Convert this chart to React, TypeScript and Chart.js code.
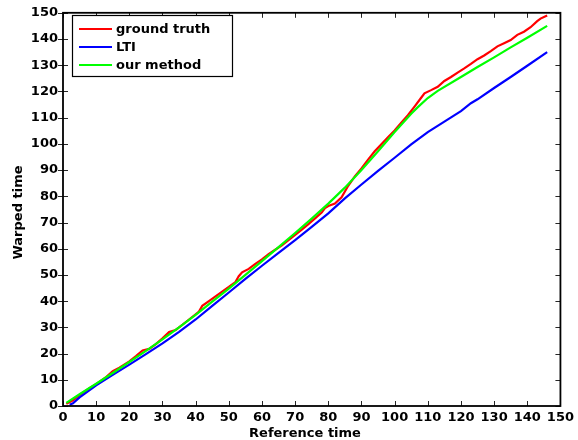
import { useEffect, useRef } from "react";
import { Chart, registerables } from "chart.js";

Chart.register(...registerables);

// ---------- data ----------
const xTickValues = [0, 10, 20, 30, 40, 50, 60, 70, 80, 90, 100, 110, 120, 130, 140, 150];
const yTickValues = [0, 10, 20, 30, 40, 50, 60, 70, 80, 90, 100, 110, 120, 130, 140, 150];

const seriesLabels = ["ground truth", "LTI", "our method"];
const seriesColors = ["#ff0000", "#0000ff", "#00ff00"];

const xAxisTitle = "Reference time";
const yAxisTitle = "Warped time";

const groundTruthX = [1, 3, 5, 8, 10, 13, 15, 17, 20, 22, 24, 26, 28, 30, 32, 34, 36, 38, 40, 41, 42, 44, 46, 48, 50, 52, 53, 54, 56, 58, 60, 62, 64, 66, 68, 70, 72, 74, 76, 78, 79, 80, 82, 84, 86, 88, 90, 92, 94, 96, 98, 100, 102, 104, 106, 108, 109, 111, 113, 115, 117, 119, 121, 123, 125, 127, 129, 131, 133, 135, 137, 139, 141, 143, 144, 146];
const groundTruthY = [0.8, 2.2, 4.2, 6.8, 8.3, 11, 13.3, 14.6, 17, 19, 21.2, 21.8, 23.6, 25.8, 28.2, 29, 31, 33, 35, 36, 38.2, 40, 41.8, 43.6, 45.4, 47.3, 49.5, 51, 52.3, 54.2, 55.9, 57.9, 59.6, 61.3, 63.3, 65.3, 67.3, 69.4, 71.6, 73.8, 75.5, 76.3, 77.2, 79.6, 84, 87.6, 90.6, 94, 97.2, 99.8, 102.5, 105.1, 108.1, 110.9, 114.2, 117.6, 119.3, 120.5, 121.8, 124, 125.5, 127.2, 128.8, 130.5, 132.3, 133.7, 135.4, 137.2, 138.4, 139.6, 141.6, 142.8, 144.5, 146.8, 147.8, 149];

const ltiX = [2, 3, 5, 10, 15, 20, 25, 30, 35, 40, 45, 50, 55, 60, 65, 70, 75, 80, 85, 90, 95, 100, 105, 110, 115, 120, 123, 125, 130, 135, 140, 146];
const ltiY = [0.5, 1, 3.3, 7.9, 11.9, 15.8, 19.8, 23.9, 28.3, 33, 38.2, 43.3, 48.5, 53.5, 58.4, 63.3, 68.3, 73.5, 79.2, 84.5, 89.7, 94.7, 99.8, 104.5, 108.5, 112.5, 115.5, 117, 121.3, 125.5, 129.8, 135];

const ourMethodX = [1, 5, 10, 15, 20, 25, 30, 35, 40, 45, 50, 55, 60, 65, 70, 75, 80, 85, 90, 95, 100, 105, 107, 110, 113, 120, 125, 130, 135, 140, 146];
const ourMethodY = [1.2, 4.5, 8.5, 12.6, 16.8, 21, 25.4, 30, 34.8, 39.8, 44.8, 50, 55.3, 60.6, 66, 71.5, 77.2, 83.3, 90, 97.2, 104.5, 111.5, 114, 117.5, 120.2, 125.5, 129.3, 133, 136.8, 140.5, 145];

// ---------- styling ----------
const FONT_FAMILY = "'DejaVu Sans', sans-serif";
const FONT_SIZE = 13;

const toPoints = (xs: number[], ys: number[]) => xs.map((x, i) => ({ x, y: ys[i] }));

const framePlugin = {
  id: "matlabFrame",
  afterDraw(chart: any) {
    const { ctx, chartArea, scales } = chart;
    const { left, right, top, bottom } = chartArea;
    const xs = scales.x;
    const ys = scales.y;
    ctx.save();

    // tick marks (inward, left ones crossing the axis)
    ctx.strokeStyle = "#262626";
    ctx.lineWidth = 1;
    ctx.beginPath();
    for (const v of xTickValues) {
      const px = Math.round(xs.getPixelForValue(v)) + 0.5;
      ctx.moveTo(px, bottom);
      ctx.lineTo(px, bottom - 5);
      ctx.moveTo(px, top);
      ctx.lineTo(px, top + 5);
    }
    for (const v of yTickValues) {
      const py = Math.round(ys.getPixelForValue(v)) + 0.5;
      ctx.moveTo(left - 5, py);
      ctx.lineTo(left + 5, py);
      ctx.moveTo(right, py);
      ctx.lineTo(right - 5, py);
    }
    ctx.stroke();

    // box
    ctx.strokeStyle = "#000";
    ctx.lineWidth = 1.8;
    ctx.strokeRect(left, top, right - left, bottom - top);

    // legend
    const lx = 72.5, ly = 15.5, lw = 160, lh = 61;
    ctx.fillStyle = "#fff";
    ctx.fillRect(lx, ly, lw, lh);
    ctx.strokeStyle = "#000";
    ctx.lineWidth = 1.2;
    ctx.strokeRect(lx, ly, lw, lh);
    ctx.font = `bold ${FONT_SIZE}px ${FONT_FAMILY}`;
    ctx.textBaseline = "middle";
    ctx.textAlign = "left";
    seriesLabels.forEach((label, i) => {
      const ry = 29 + i * 18;
      ctx.strokeStyle = seriesColors[i];
      ctx.lineWidth = 2;
      ctx.beginPath();
      ctx.moveTo(79, ry);
      ctx.lineTo(112, ry);
      ctx.stroke();
      ctx.fillStyle = "#000";
      ctx.fillText(label, 116, ry + 0.5);
    });

    // axis titles
    ctx.fillStyle = "#000";
    ctx.textAlign = "center";
    ctx.textBaseline = "alphabetic";
    ctx.fillText(xAxisTitle, 305, 437);
    ctx.translate(21.5, 212.5);
    ctx.rotate(-Math.PI / 2);
    ctx.fillText(yAxisTitle, 0, 0);

    ctx.restore();
  },
};

export default function App() {
  const canvasRef = useRef<HTMLCanvasElement | null>(null);

  useEffect(() => {
    const canvas = canvasRef.current;
    if (!canvas) return;
    const tickFont = { family: FONT_FAMILY, size: FONT_SIZE, weight: "bold" as const };
    const chart = new Chart(canvas, {
      type: "line",
      data: {
        datasets: [
          {
            label: seriesLabels[0],
            data: toPoints(groundTruthX, groundTruthY),
            borderColor: seriesColors[0],
            borderWidth: 2.2,
            pointRadius: 0,
            tension: 0,
            order: 2,
          },
          {
            label: seriesLabels[1],
            data: toPoints(ltiX, ltiY),
            borderColor: seriesColors[1],
            borderWidth: 2.2,
            pointRadius: 0,
            tension: 0,
            order: 1,
          },
          {
            label: seriesLabels[2],
            data: toPoints(ourMethodX, ourMethodY),
            borderColor: seriesColors[2],
            borderWidth: 2.2,
            pointRadius: 0,
            tension: 0,
            order: 0,
          },
        ],
      },
      options: {
        responsive: false,
        animation: false,
        parsing: false as any,
        layout: { padding: { top: 10, right: 12, left: 0, bottom: 0 } },
        plugins: {
          legend: { display: false },
          tooltip: { enabled: false },
        },
        scales: {
          x: {
            type: "linear",
            min: 0,
            max: 150,
            afterBuildTicks: (scale: any) => {
              scale.ticks = xTickValues.map((v) => ({ value: v }));
            },
            afterFit: (scale: any) => {
              scale.height = 34;
            },
            ticks: {
              autoSkip: false,
              maxRotation: 0,
              padding: 4,
              color: "#000",
              font: tickFont,
            },
            grid: { display: false, drawTicks: false },
            border: { display: false },
          },
          y: {
            type: "linear",
            min: 0,
            max: 150,
            afterBuildTicks: (scale: any) => {
              scale.ticks = yTickValues.map((v) => ({ value: v }));
            },
            afterFit: (scale: any) => {
              scale.width = 63;
            },
            ticks: {
              autoSkip: false,
              padding: 5,
              color: "#000",
              font: tickFont,
            },
            grid: { display: false, drawTicks: false },
            border: { display: false },
          },
        },
      },
      plugins: [framePlugin],
    });
    return () => chart.destroy();
  }, []);

  return (
    <div style={{ position: "absolute", left: 0, top: 0, width: 578, height: 440, background: "#fff" }}>
      <canvas ref={canvasRef} width={578} height={440} style={{ width: 578, height: 440, display: "block" }} />
    </div>
  );
}
